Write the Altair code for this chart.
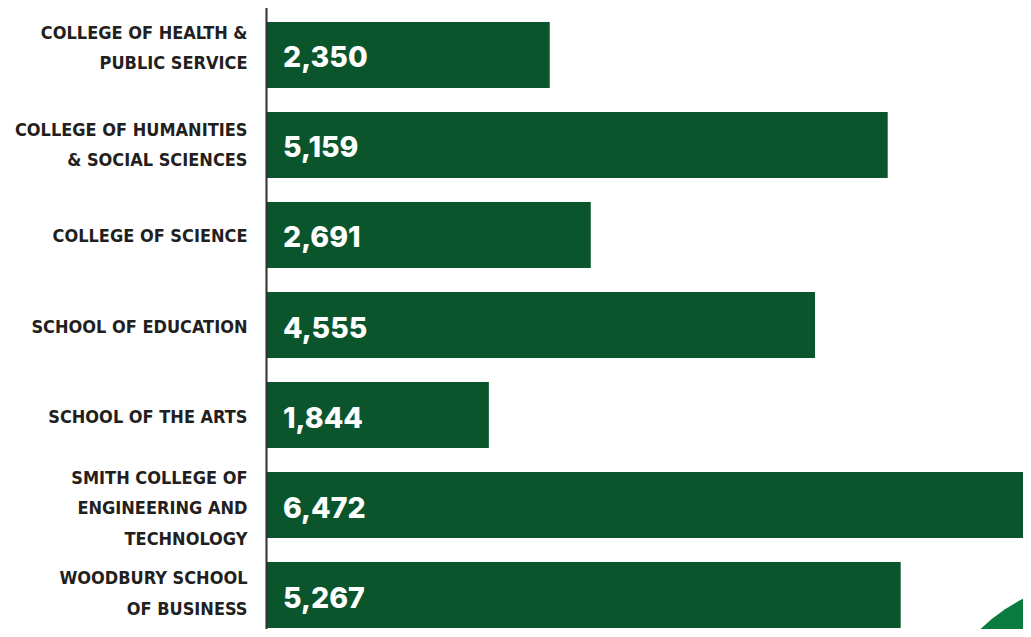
import altair as alt
import pandas as pd

colleges = [
    "COLLEGE OF HEALTH &|PUBLIC SERVICE",
    "COLLEGE OF HUMANITIES|& SOCIAL SCIENCES",
    "COLLEGE OF SCIENCE",
    "SCHOOL OF EDUCATION",
    "SCHOOL OF THE ARTS",
    "SMITH COLLEGE OF|ENGINEERING AND|TECHNOLOGY",
    "WOODBURY SCHOOL|OF BUSINESS",
]
enrollment = [2350, 5159, 2691, 4555, 1844, 6472, 5267]

df = pd.DataFrame({"college": colleges, "students": enrollment})

BAR = "#0b552d"

label_offset = {
    "condition": [
        {"test": "indexof(datum.label, 'HEALTH') >= 0", "value": -21},
        {"test": "indexof(datum.label, 'HUMANITIES') >= 0", "value": -14},
        {"test": "indexof(datum.label, 'SMITH') >= 0", "value": -26.5},
        {"test": "indexof(datum.label, 'WOODBURY') >= 0", "value": -16},
    ],
    "value": 2.5,
}

ycat = alt.Y(
    "college:N",
    sort=None,
    scale=alt.Scale(paddingInner=0.2667, paddingOuter=0.1333),
    axis=alt.Axis(
        title=None,
        domain=False,
        ticks=False,
        labelPadding=20,
        labelFont="DejaVu Sans Condensed",
        labelFontWeight="bold",
        labelFontSize=18,
        labelColor="#231f20",
        labelLineHeight=30.5,
        labelLimit=400,
        labelOffset=label_offset,
        labelExpr="split(datum.label, '|')",
    ),
)
xq = alt.X(
    "students:Q",
    scale=alt.Scale(domain=[0, 6350], nice=False, zero=True),
    axis=None,
)

bars = alt.Chart(df).mark_bar(color=BAR, clip=True).encode(y=ycat, x=xq)

values = alt.Chart(df).mark_text(
    align="left",
    baseline="middle",
    dx=16,
    dy=3.5,
    font="Inter",
    fontWeight=800,
    fontSize=28.5,
    color="white",
).encode(
    y=alt.Y("college:N", sort=None),
    x=alt.value(0),
    text=alt.Text("students:Q", format=","),
)

axis_line = alt.Chart(df).mark_rule(color="#333333", strokeWidth=1.2).encode(
    x=alt.value(-0.5), y=alt.value(-6), y2=alt.value(640)
)

deco = alt.Chart(pd.DataFrame({"d": [1]})).mark_point(
    shape="circle", filled=True, color="#0a7b3f", opacity=1, size=129600
).encode(x=alt.value(838), y=alt.value(749))

chart = (
    alt.layer(deco, bars, values, axis_line)
    .properties(
        width=764,
        height=630,
        padding={"left": 259, "top": 2, "right": -8, "bottom": -11},
        autosize=alt.AutoSizeParams(type="none"),
        background="white",
    )
    .configure_view(stroke=None)
)

chart.save("out.html", embed_options={"renderer": "svg", "actions": False})
